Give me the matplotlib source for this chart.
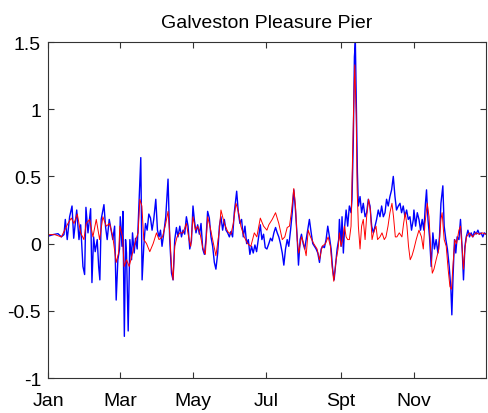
import matplotlib
matplotlib.use("Agg")
import matplotlib.pyplot as plt

# water level anomaly (m) at Galveston Pleasure Pier, day of year
obs_day = [0, 4.2, 8.3, 11.1, 13.3, 14.4, 16.0, 18.0, 20.0, 21.4, 23.9, 25.8, 27.2, 29.1,
           30.5, 31.6, 33.3, 35.5, 36.6, 38.0, 39.3, 41.0, 42.2, 43.2, 44.3, 46.6, 48.0,
           49.3, 51.0, 52.6, 54.0, 55.5, 56.8, 58.2, 59.6, 60.2, 61.6, 62.4, 63.6, 64.6,
           65.4, 66.8, 68.2, 69.6, 70.4, 71.8, 72.9, 74.3, 75.7, 77.3, 78.4, 79.8, 81.2,
           82.6, 84.0, 85.4, 86.7, 88.1, 89.8, 91.2, 92.5, 93.7, 95.0, 96.5, 98.1, 100.0,
           101.4, 102.9, 104.2, 105.6, 107.0, 108.3, 109.8, 111.2, 112.5, 113.9, 115.3,
           116.7, 118.1, 119.5, 120.8, 121.9, 123.3, 124.7, 126.1, 127.5, 128.9, 130.3,
           131.6, 133.0, 134.4, 135.8, 137.2, 138.6, 139.9, 141.4, 142.8, 144.1, 145.5,
           146.9, 148.3, 149.7, 151.1, 152.4, 153.8, 155.2, 157.2, 158.6, 159.9, 161.3,
           162.7, 164.1, 165.5, 166.9, 168.2, 169.6, 171.0, 172.4, 173.8, 175.2, 176.9,
           178.2, 179.6, 181.0, 182.4, 184.0, 185.4, 186.8, 188.2, 189.6, 191.0, 192.3,
           193.7, 195.2, 196.5, 197.9, 199.3, 200.6, 202.1, 203.5, 204.8, 206.2, 207.6,
           208.7, 210.1, 211.2, 212.6, 213.9, 215.1, 216.4, 217.8, 219.3, 220.6, 222.0,
           223.4, 224.8, 226.2, 227.6, 228.9, 230.3, 231.7, 233.1, 234.5, 235.9, 237.2,
           238.4, 239.5, 240.9, 242.2, 242.8, 244.2, 245.0, 246.1, 247.2, 248.4, 249.7,
           251.1, 252.5, 253.3, 254.4, 255.3, 256.1, 256.9, 257.8, 258.6, 260.0, 261.3,
           262.7, 264.2, 265.5, 266.9, 268.3, 269.7, 271.1, 272.5, 273.8, 275.2, 276.6,
           278.0, 279.4, 280.8, 282.1, 283.5, 284.9, 286.3, 287.7, 289.1, 290.4, 291.9,
           293.3, 294.6, 296.0, 297.4, 298.8, 300.2, 301.6, 302.9, 304.4, 304.9, 306.3,
           307.7, 309.1, 310.4, 311.8, 313.2, 314.5, 315.4, 316.6, 317.9, 319.3, 320.7,
           322.0, 323.4, 324.9, 326.2, 327.4, 329.0, 330.1, 331.5, 332.8, 334.3, 335.7,
           336.5, 337.6, 338.7, 339.8, 340.9, 342.4, 343.7, 345.1, 346.2, 347.4, 348.5,
           349.9, 351.2, 352.6, 354.0, 355.3, 356.7, 358.2, 359.5, 360.9, 362.3, 363.6, 365.0]
obs_level = [0.055, 0.067, 0.074, 0.05, 0.067, 0.18, 0.03, 0.2, 0.28, 0.04, 0.25, 0.03, 0.14,
             -0.17, -0.23, 0.27, 0.08, 0.26, -0.29, 0.05, -0.06, 0.03, -0.17, -0.27, 0.18,
             0.29, 0.12, 0.03, 0.18, 0.10, 0.03, 0.13, -0.42, -0.12, -0.04, 0.2, -0.02, 0.24,
             -0.69, 0.03, -0.07, -0.65, 0.03, -0.12, 0.08, -0.07, 0.04, -0.04, 0.28, 0.64,
             -0.27, -0.02, 0.15, 0.10, 0.22, 0.19, 0.10, 0.18, 0.33, 0.10, 0.05, 0.1, -0.02,
             0.08, 0.2, 0.48, 0.03, -0.22, -0.27, 0.03, 0.12, 0.05, 0.13, 0.05, 0.1, 0.07,
             0.2, 0.13, -0.04, 0.02, 0.28, 0.18, 0.08, 0.14, 0.07, 0.15, -0.04, -0.08, 0.03,
             0.24, 0.19, 0.05, -0.02, -0.14, -0.19, -0.07, 0.13, 0.2, 0.1, 0.18, 0.1, 0.08,
             0.05, 0.09, 0.05, 0.23, 0.39, 0.23, 0.15, 0.18, 0.05, 0.13, 0.0, 0.03, -0.08,
             -0.02, -0.07, -0.01, -0.06, 0.03, 0.14, 0.03, 0.07, -0.03, -0.04, 0.0, 0.04,
             0.02, 0.08, 0.12, 0.08, 0.05, 0.0, -0.07, -0.16, -0.04, 0.03, -0.02, 0.1, 0.23,
             0.4, 0.25, 0.05, -0.16, 0.03, 0.07, 0.0, -0.04, 0.03, 0.1, 0.18, 0.08, 0.0,
             -0.02, -0.04, -0.07, -0.14, -0.04, -0.02, -0.03, 0.03, 0.13, 0.05, -0.04, -0.19,
             -0.27, -0.17, -0.04, 0.03, 0.18, -0.02, 0.2, -0.07, 0.13, 0.25, 0.13, 0.28,
             0.23, 0.33, 0.77, 1.39, 1.5, 1.02, 0.53, 0.28, 0.35, 0.23, 0.30, 0.2, 0.23,
             0.33, 0.28, 0.13, 0.08, 0.13, 0.18, 0.25, 0.2, 0.28, 0.2, 0.23, 0.33, 0.28,
             0.35, 0.40, 0.5, 0.35, 0.25, 0.28, 0.30, 0.23, 0.28, 0.2, 0.25, 0.18, 0.2, 0.1,
             0.18, 0.25, 0.13, 0.23, 0.18, 0.1, 0.18, 0.1, 0.3, 0.4, 0.18, 0.05, -0.17, 0.08,
             -0.04, 0.03, -0.07, 0.05, 0.3, 0.43, 0.13, 0.03, -0.04, -0.17, -0.34, -0.53,
             -0.22, 0.03, -0.07, 0.05, 0.03, 0.18, -0.04, -0.27, -0.02, 0.05, 0.1, 0.05,
             0.08, 0.05, 0.09, 0.07, 0.1, 0.07, 0.08, 0.05, 0.08, 0.07]

model_day = [0, 5.6, 11.1, 13.9, 16.6, 19.4, 21.6, 24.4, 27.2, 29.9, 31.8, 34.7, 37.4, 40.2,
             43.0, 45.7, 48.5, 51.3, 54.0, 56.8, 58.8, 59.9, 62.1, 63.4, 65.4, 67.6, 70.4,
             73.2, 75.1, 76.5, 78.2, 79.8, 82.1, 84.8, 87.6, 90.4, 92.5, 95.4, 98.1, 100.0,
             101.4, 102.9, 104.2, 105.6, 107.5, 109.8, 112.5, 115.3, 117.5, 118.9, 120.8,
             122.8, 124.7, 126.6, 128.9, 131.1, 133.0, 134.9, 137.2, 139.9, 142.8, 144.1,
             146.9, 149.7, 152.4, 154.4, 156.6, 158.8, 160.7, 163.5, 166.3, 169.0, 171.9,
             174.0, 176.9, 179.6, 182.4, 184.0, 186.8, 189.6, 192.3, 195.2, 197.3, 199.3,
             201.2, 202.9, 204.8, 206.2, 207.6, 208.9, 211.2, 213.1, 215.1, 216.8, 218.7,
             221.4, 224.2, 226.2, 228.4, 231.2, 233.4, 235.3, 236.7, 238.1, 240.1, 241.7,
             242.8, 244.2, 245.5, 247.0, 248.4, 249.7, 251.1, 252.5, 253.9, 254.7, 255.6,
             256.8, 257.6, 258.6, 260.0, 261.3, 262.7, 264.2, 265.5, 267.1, 268.6, 270.0,
             271.3, 273.3, 274.6, 276.6, 278.3, 280.2, 281.6, 283.3, 284.9, 286.6, 287.9,
             289.4, 290.7, 292.7, 294.9, 296.3, 297.7, 299.1, 300.4, 301.8, 303.3, 304.9,
             306.8, 309.1, 311.2, 312.7, 314.1, 316.0, 317.5, 318.8, 320.2, 321.6, 323.4,
             325.7, 327.4, 328.4, 330.1, 331.8, 333.4, 334.9, 336.2, 337.6, 339.0, 340.4,
             342.4, 343.7, 345.1, 346.2, 347.4, 348.7, 351.0, 353.8, 356.5, 359.2, 362.0, 365.0]
model_level = [0.067, 0.067, 0.05, 0.1, 0.15, 0.19, 0.15, 0.22, 0.08, 0.03, 0.15, 0.18, 0.05,
               0.18, 0.03, 0.2, 0.13, 0.15, 0.05, -0.14, -0.07, 0.13, 0.05, -0.17, -0.12,
               -0.17, -0.07, 0.03, 0.08, 0.33, 0.28, 0.03, 0.0, -0.06, 0.0, 0.08, 0.03, 0.05,
               0.15, 0.24, 0.08, -0.17, -0.27, -0.02, 0.05, 0.08, 0.08, 0.15, 0.03, -0.02, 0.2,
               0.1, 0.13, 0.08, -0.03, -0.08, 0.2, 0.13, 0.03, -0.09, 0.1, 0.25, 0.15, 0.09,
               0.07, 0.15, 0.3, 0.23, 0.13, 0.05, 0.0, -0.02, 0.08, 0.05, 0.19, 0.13, 0.1,
               0.14, 0.18, 0.23, 0.15, 0.03, 0.05, 0.12, 0.13, 0.24, 0.41, 0.28, 0.03, -0.07,
               0.05, 0.0, -0.09, 0.1, 0.05, 0.0, -0.04, -0.12, -0.02, 0.0, 0.05, -0.02, -0.17,
               -0.28, -0.12, -0.04, 0.08, -0.02, 0.03, 0.13, 0.05, 0.03, 0.03, 0.13, 0.7, 1.02,
               1.33, 0.95, 0.4, 0.13, -0.04, 0.13, 0.18, 0.03, 0.2, 0.33, 0.25, 0.03, 0.08,
               0.13, 0.03, 0.05, 0.08, 0.03, 0.05, 0.13, 0.23, 0.30, 0.2, 0.05, 0.05, 0.08,
               0.05, 0.15, 0.23, 0.13, -0.02, -0.12, -0.09, -0.04, 0.03, 0.1, 0.05, -0.04, 0.15,
               0.3, 0.2, -0.04, -0.22, -0.19, -0.12, -0.04, 0.18, 0.23, 0.03, -0.02, -0.19,
               -0.32, -0.34, -0.14, 0.03, 0.0, 0.1, 0.13, -0.04, -0.19, -0.04, 0.05, 0.08,
               0.05, 0.08, 0.07, 0.08, 0.07]

month_ticks = [0, 60, 121, 182, 244, 305]
month_labels = ["Jan", "Mar", "May", "Jul", "Spt", "Nov"]
level_ticks = [-1, -0.5, 0, 0.5, 1, 1.5]
level_labels = ["-1", "-0.5", "0", "0.5", "1", "1.5"]

plt.rcParams["font.family"] = ["Liberation Sans", "DejaVu Sans"]

fig = plt.figure(figsize=(4.88, 4.14), dpi=100)
ax = fig.add_axes([0.0984, 0.0845, 0.8976, 0.8116])

ax.plot(obs_day, obs_level, color="#0000ff", lw=1.0)
ax.plot(model_day, model_level, color="#ff0000", lw=0.7)

ax.set_xlim(0, 365)
ax.set_ylim(-1, 1.5)
ax.set_xticks(month_ticks)
ax.set_xticklabels(month_labels)
ax.set_yticks(level_ticks)
ax.set_yticklabels(level_labels)
ax.tick_params(direction="in", length=4, width=0.8, colors="#333333",
               labelcolor="black", labelsize=14, top=True, right=True)
ax.tick_params(axis="x", pad=10)
ax.tick_params(axis="y", pad=5)
for s in ax.spines.values():
    s.set_color("#333333")
    s.set_linewidth(0.8)

ax.set_title("Galveston Pleasure Pier", fontsize=14, pad=11)

fig.savefig("out.png", dpi=100)
